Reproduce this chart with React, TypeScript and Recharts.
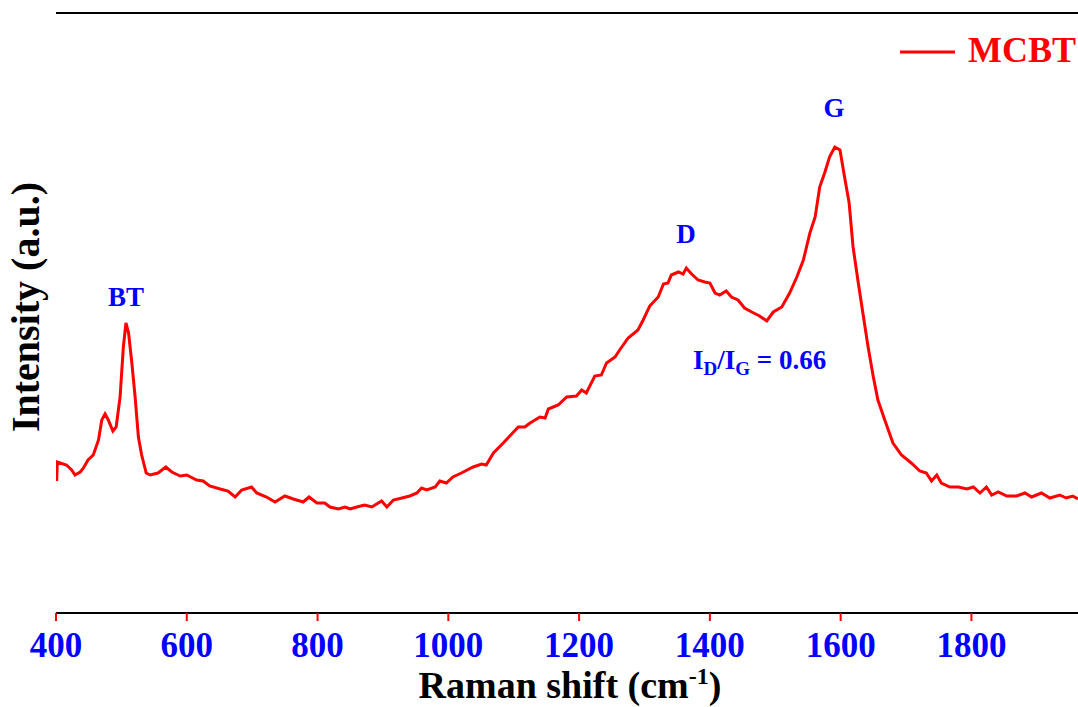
import { LineChart, Line, XAxis, YAxis, ReferenceLine } from 'recharts'

// Raman shift (cm-1) and intensity (a.u.)
const shifts = [
  401, 402, 416, 424, 429, 437, 442, 449, 457, 465, 470, 475, 480, 487, 492, 498,
  503, 507, 511, 516, 521, 526, 531, 538, 544, 556, 568, 577, 590, 600, 615, 625,
  635, 651, 663, 674, 684, 699, 707, 722, 735, 750, 763, 778, 787, 799, 811, 819,
  832, 842, 850, 860, 872, 883, 898, 906, 916, 929, 941, 952, 959, 967, 980, 987,
  997, 1007, 1020, 1038, 1051, 1058, 1069, 1084, 1094, 1107, 1117, 1125, 1140, 1148, 1153, 1168,
  1181, 1196, 1204, 1211, 1224, 1234, 1242, 1255, 1262, 1275, 1290, 1298, 1308, 1321, 1329, 1336,
  1341, 1352, 1359, 1364, 1372, 1382, 1392, 1400, 1408, 1415, 1425, 1433, 1443, 1453, 1464, 1476,
  1487, 1497, 1510, 1522, 1533, 1543, 1553, 1561, 1568, 1576, 1583, 1591, 1599, 1606, 1613, 1619,
  1627, 1634, 1642, 1650, 1657, 1668, 1680, 1693, 1708, 1721, 1731, 1739, 1747, 1754, 1767, 1780,
  1793, 1803, 1813, 1823, 1831, 1841, 1854, 1869, 1882, 1892, 1907, 1920, 1935, 1945, 1955, 1963,
]

const intensity = [
  132, 151, 148, 143, 138, 141, 145, 153, 158, 173, 193, 199, 193, 182, 186, 216,
  266, 290, 280, 250, 216, 176, 158, 140, 138, 140, 146, 141, 137, 138, 133, 132,
  127, 124, 122, 116, 123, 126, 120, 116, 111, 117, 114, 111, 116, 110, 110, 106,
  104, 106, 104, 106, 108, 106, 112, 106, 113, 115, 117, 120, 125, 123, 126, 132,
  130, 136, 140, 146, 149, 148, 160, 170, 177, 186, 186, 190, 196, 195, 204, 208,
  216, 217, 223, 220, 237, 238, 250, 256, 263, 275, 283, 293, 307, 316, 329, 330,
  338, 341, 339, 345, 339, 333, 331, 330, 320, 318, 322, 316, 313, 305, 301, 297,
  292, 301, 306, 320, 336, 353, 380, 396, 426, 441, 456, 466, 463, 436, 410, 366,
  330, 300, 266, 236, 213, 192, 170, 158, 150, 142, 140, 132, 138, 130, 126, 126,
  124, 126, 120, 126, 118, 121, 117, 117, 120, 116, 120, 115, 118, 115, 117, 114,
]

const xTicks = [400, 600, 800, 1000, 1200, 1400, 1600, 1800]
const xDomain = [400, 1963]
const yDomain = [0, 600]

const data = shifts.map((x, i) => ({ x, y: intensity[i] }))

const serif = '"Liberation Serif", "Times New Roman", serif'
const blue = '#0000ff'
const red = '#ff0000'

function Overlay() {
  return (
    <svg
      width={1078}
      height={707}
      style={{ position: 'absolute', left: 0, top: 0, pointerEvents: 'none' }}
      fontFamily={serif}
      fontWeight="bold"
    >
      {/* axis titles */}
      <text x={570} y={698} textAnchor="middle" fontSize={38} fill="#000">
        Raman shift (cm<tspan dy={-14} fontSize={24}>-1</tspan>
        <tspan dy={14}>)</tspan>
      </text>
      <text
        x={0}
        y={0}
        transform="translate(39 307) rotate(-90)"
        textAnchor="middle"
        fontSize={40}
        fill="#000"
      >
        Intensity (a.u.)
      </text>

      {/* peak labels */}
      <text x={126} y={306} textAnchor="middle" fontSize={27} fill={blue}>BT</text>
      <text x={686} y={243} textAnchor="middle" fontSize={27} fill={blue}>D</text>
      <text x={834} y={117} textAnchor="middle" fontSize={27} fill={blue}>G</text>
      <text x={693} y={369} fontSize={27} fill={blue}>
        I<tspan dy={6} fontSize={19}>D</tspan>
        <tspan dy={-6}>/I</tspan>
        <tspan dy={6} fontSize={19}>G</tspan>
        <tspan dy={-6}> = 0.66</tspan>
      </text>

      {/* legend */}
      <line x1={900} y1={52} x2={955} y2={52} stroke={red} strokeWidth={3} />
      <text x={968} y={62} fontSize={36} fill={red}>MCBT</text>
    </svg>
  )
}

export default function App() {
  return (
    <div style={{ position: 'relative', width: 1078, height: 707, overflow: 'hidden' }}>
      <style>{'body{margin:0}'}</style>
      <LineChart
        width={1078}
        height={707}
        data={data}
        margin={{ top: 13, right: 0, bottom: 0, left: 56 }}
      >
        <XAxis
          dataKey="x"
          type="number"
          domain={xDomain}
          ticks={xTicks}
          allowDataOverflow
          axisLine={{ stroke: '#000', strokeWidth: 2 }}
          tickLine={{ stroke: red, strokeWidth: 2 }}
          tickSize={8}
          tickMargin={11}
          height={94}
          tick={{ fill: blue, fontSize: 35, fontWeight: 'bold', fontFamily: serif }}
        />
        <YAxis
          type="number"
          domain={yDomain}
          axisLine={{ stroke: '#000', strokeWidth: 2 }}
          tick={false}
          tickLine={false}
          width={0}
        />
        <ReferenceLine y={600} stroke="#000" strokeWidth={2} ifOverflow="visible" />
        <Line
          dataKey="y"
          type="linear"
          stroke={red}
          strokeWidth={3}
          dot={false}
          isAnimationActive={false}
        />
      </LineChart>
      <Overlay />
    </div>
  )
}
